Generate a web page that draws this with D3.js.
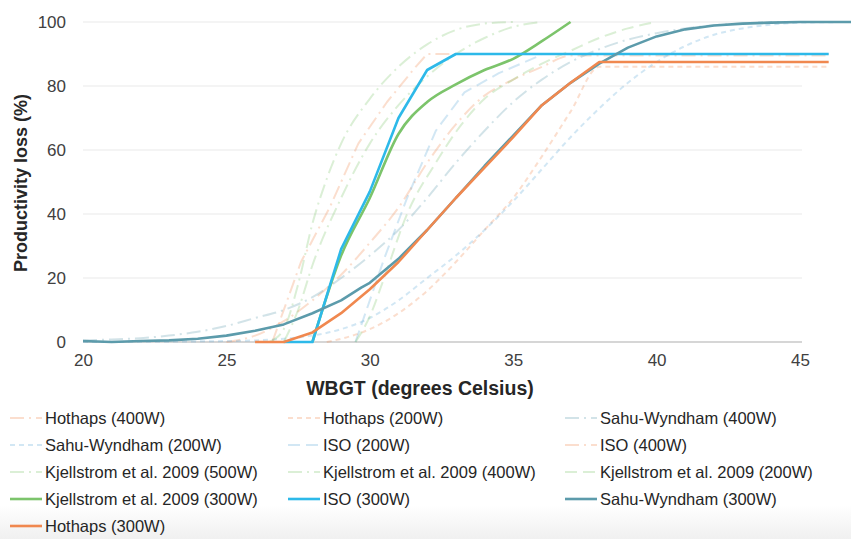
<!DOCTYPE html>
<html>
<head>
<meta charset="utf-8">
<script src="https://cdn.jsdelivr.net/npm/d3@7"></script>
<style>
  body { margin: 0; background: #fff; }
  text { font-family: "Liberation Sans", Arial, sans-serif; }
</style>
</head>
<body>
<div id="chart"></div>
<script>
// WBGT (x) vs productivity loss % (y)
var hothaps400 = [[25,0],[26,2],[27,6.5],[28,13],[29,21],[30,31],[31,42],[32,56],[33,68],[34,77],[35,82],[36,86],[37,89.5],[46,89.5]];
var hothaps200 = [[28.5,0],[29,1],[30,4],[31,9],[32,16],[33,25],[34,35],[35,45],[36,58],[37,72],[38,86],[46,86]];
var sahu400 = [[20,0.5],[21,0.8],[22,1.2],[23,2],[24,3.2],[25,5],[26,7.5],[27,10],[28,14],[29,20],[30,27],[31,35],[32,45],[33,56],[34,66],[35,75],[36,82],[37,87.5],[38,91.5],[39,94.5],[40,96.5],[41,98],[42,99],[43,99.5],[44,100],[46.8,100]];
var sahu200 = [[20,0],[24,0.2],[26,0.5],[27,1],[28,2],[29,4],[30,7.5],[31,13],[32,20],[33,27],[34,35],[35,44],[36,54],[37,64],[38,73],[39,81],[40,87.5],[41,92.5],[42,96],[43,98],[44,99.2],[45,99.8],[46.8,100]];
var iso200 = [[29.5,0],[30.5,26],[31.3,45],[32.3,66],[33.3,78],[34.5,84],[35.8,89],[36,90],[46,90]];
var iso400 = [[26.6,0],[27.6,25],[28.6,42],[29.6,62],[30.6,75],[31.6,86],[32,90],[46,90]];
var kj500 = [[26.5,0],[27,4],[27.5,18],[28,37],[28.5,51],[29,62],[30,76],[31,86],[32,93],[33,97.5],[34,99.5],[35,100]];
var kj400 = [[27,0],[27.5,10],[28,24],[29,45],[30,62],[31,74],[32,83],[33,90],[34,95],[35,98.5],[36,100]];
var kj200 = [[29.5,0],[30,8],[30.5,20],[31.3,40],[32.3,56],[33.2,68],[34,76],[35,82],[36,87],[37,91],[38,95],[39,98],[40,100]];
var kj300 = [[28,0],[29,27],[30,45],[31,65],[32,75],[33,80.5],[34,85],[35,88.5],[36,94],[37,100]];
var iso300 = [[27,0],[28,0],[29,29],[30,47],[31,70],[32,85],[33,90],[46,90]];
var sahu300 = [[20,0.3],[21,0],[22,0.3],[23,0.5],[24,1],[25,2],[26,3.5],[27,5.5],[28,9],[29,13],[29.7,17],[30,18.5],[31,26],[32,35],[33,45],[34,55],[35,64.5],[36,74],[37,81],[38,87],[39,92],[40,95.5],[41,97.7],[42,98.9],[43,99.5],[44,99.8],[45,100],[46.8,100]];
var hothaps300 = [[26,0],[27,0],[28,3],[29,9],[30,16.5],[31,25],[32,35],[33,45],[34,54.5],[35,64],[36,74],[37,81],[38,87.5],[46,87.5]];

var xTicks = [20, 25, 30, 35, 40, 45];
var yTicks = [0, 20, 40, 60, 80, 100];

var orange = '#f0884f', cyan = '#2db9e9', teal = '#5c9bab', green = '#7cc46b';
var dashDot = '14,5,2,5', shortDash = '5,4', longDash = '12,6';

// legend order (row by row, 3 columns)
var series = [
  {name: 'Hothaps (400W)', data: hothaps400, color: orange, dash: dashDot, faint: true, smooth: true},
  {name: 'Hothaps (200W)', data: hothaps200, color: orange, dash: shortDash, faint: true, smooth: true},
  {name: 'Sahu-Wyndham (400W)', data: sahu400, color: teal, dash: dashDot, faint: true, smooth: true},
  {name: 'Sahu-Wyndham (200W)', data: sahu200, color: '#5ca9d8', dash: shortDash, faint: true, smooth: true},
  {name: 'ISO (200W)', data: iso200, color: '#5ca9d8', dash: longDash, faint: true, smooth: false},
  {name: 'ISO (400W)', data: iso400, color: orange, dash: dashDot, faint: true, smooth: false},
  {name: 'Kjellstrom et al. 2009 (500W)', data: kj500, color: green, dash: dashDot, faint: true, smooth: true},
  {name: 'Kjellstrom et al. 2009 (400W)', data: kj400, color: green, dash: dashDot, faint: true, smooth: true},
  {name: 'Kjellstrom et al. 2009 (200W)', data: kj200, color: green, dash: longDash, faint: true, smooth: true},
  {name: 'Kjellstrom et al. 2009 (300W)', data: kj300, color: green, dash: null, faint: false, smooth: true},
  {name: 'ISO (300W)', data: iso300, color: cyan, dash: null, faint: false, smooth: false},
  {name: 'Sahu-Wyndham (300W)', data: sahu300, color: teal, dash: null, faint: false, smooth: false},
  {name: 'Hothaps (300W)', data: hothaps300, color: orange, dash: null, faint: false, smooth: false}
];

var width = 851, height = 539;

var svg = d3.select('#chart').append('svg')
  .attr('width', width)
  .attr('height', height);

var defs = svg.append('defs');
var grad = defs.append('linearGradient').attr('id', 'fade')
  .attr('x1', 0).attr('y1', 0).attr('x2', 0).attr('y2', 1);
grad.append('stop').attr('offset', '0%').attr('stop-color', '#ffffff');
grad.append('stop').attr('offset', '100%').attr('stop-color', '#f0f0f0');
svg.append('rect').attr('x', 0).attr('y', 505).attr('width', width).attr('height', 34)
  .attr('fill', 'url(#fade)');

var x = d3.scaleLinear().domain([20, 45]).range([83, 800]);
var y = d3.scaleLinear().domain([0, 100]).range([342, 22]);

// gridlines
svg.append('g').selectAll('line')
  .data(yTicks.filter(function(d) { return d > 0; }))
  .enter().append('line')
  .attr('x1', x(20)).attr('x2', x(45) + 2)
  .attr('y1', function(d) { return y(d); })
  .attr('y2', function(d) { return y(d); })
  .attr('stroke', '#e9e9e9')
  .attr('stroke-width', 1.2);

svg.append('line')
  .attr('x1', x(20)).attr('x2', x(45) + 2)
  .attr('y1', y(0)).attr('y2', y(0))
  .attr('stroke', '#c8c8c8')
  .attr('stroke-width', 1.3);

// axis labels
var yAxis = d3.axisLeft(y).tickValues(yTicks).tickSize(0).tickPadding(0);
var gy = svg.append('g').attr('transform', 'translate(66,0)').call(yAxis);
gy.select('.domain').remove();
gy.selectAll('text')
  .attr('font-size', 17)
  .attr('fill', '#404040')
  .attr('font-family', '"Liberation Sans", Arial, sans-serif');

var xAxis = d3.axisBottom(x).tickValues(xTicks).tickSize(0).tickPadding(0);
var gx = svg.append('g').attr('transform', 'translate(0,354)').call(xAxis);
gx.select('.domain').remove();
gx.selectAll('text')
  .attr('font-size', 17)
  .attr('fill', '#404040')
  .attr('font-family', '"Liberation Sans", Arial, sans-serif');

svg.append('text')
  .attr('x', 420).attr('y', 395)
  .attr('text-anchor', 'middle')
  .attr('font-size', 19.5)
  .attr('font-weight', 'bold')
  .attr('fill', '#262626')
  .text('WBGT (degrees Celsius)');

svg.append('text')
  .attr('transform', 'translate(27,' + 183 + ') rotate(-90)')
  .attr('text-anchor', 'middle')
  .attr('font-size', 18)
  .attr('font-weight', 'bold')
  .attr('fill', '#262626')
  .text('Productivity loss (%)');

// lines
var lineSmooth = d3.line()
  .x(function(d) { return x(d[0]); })
  .y(function(d) { return y(d[1]); })
  .curve(d3.curveMonotoneX);
var lineStraight = d3.line()
  .x(function(d) { return x(d[0]); })
  .y(function(d) { return y(d[1]); });

svg.append('g').selectAll('path')
  .data(series)
  .enter().append('path')
  .attr('d', function(d) { return d.smooth ? lineSmooth(d.data) : lineStraight(d.data); })
  .attr('fill', 'none')
  .attr('stroke', function(d) { return d.color; })
  .attr('stroke-opacity', function(d) { return d.faint ? 0.28 : 1; })
  .attr('stroke-width', function(d) { return d.faint ? 2 : 2.6; })
  .attr('stroke-dasharray', function(d) { return d.dash; })
  .attr('stroke-linejoin', 'round');

// legend
var colX = [10, 288, 565];
var legend = svg.append('g').selectAll('.legend')
  .data(series)
  .enter().append('g')
  .attr('class', 'legend')
  .attr('transform', function(d, i) {
    return 'translate(' + colX[i % 3] + ',' + (418 + Math.floor(i / 3) * 27) + ')';
  });

legend.append('line')
  .attr('x1', 0).attr('x2', 32)
  .attr('stroke', function(d) { return d.color; })
  .attr('stroke-opacity', function(d) { return d.faint ? 0.28 : 1; })
  .attr('stroke-width', function(d) { return d.faint ? 2 : 2.6; })
  .attr('stroke-dasharray', function(d) { return d.dash; });

legend.append('text')
  .attr('x', 35)
  .attr('dy', '0.35em')
  .attr('font-size', 16.5)
  .attr('fill', '#262626')
  .text(function(d) { return d.name; });
</script>
</body>
</html>
